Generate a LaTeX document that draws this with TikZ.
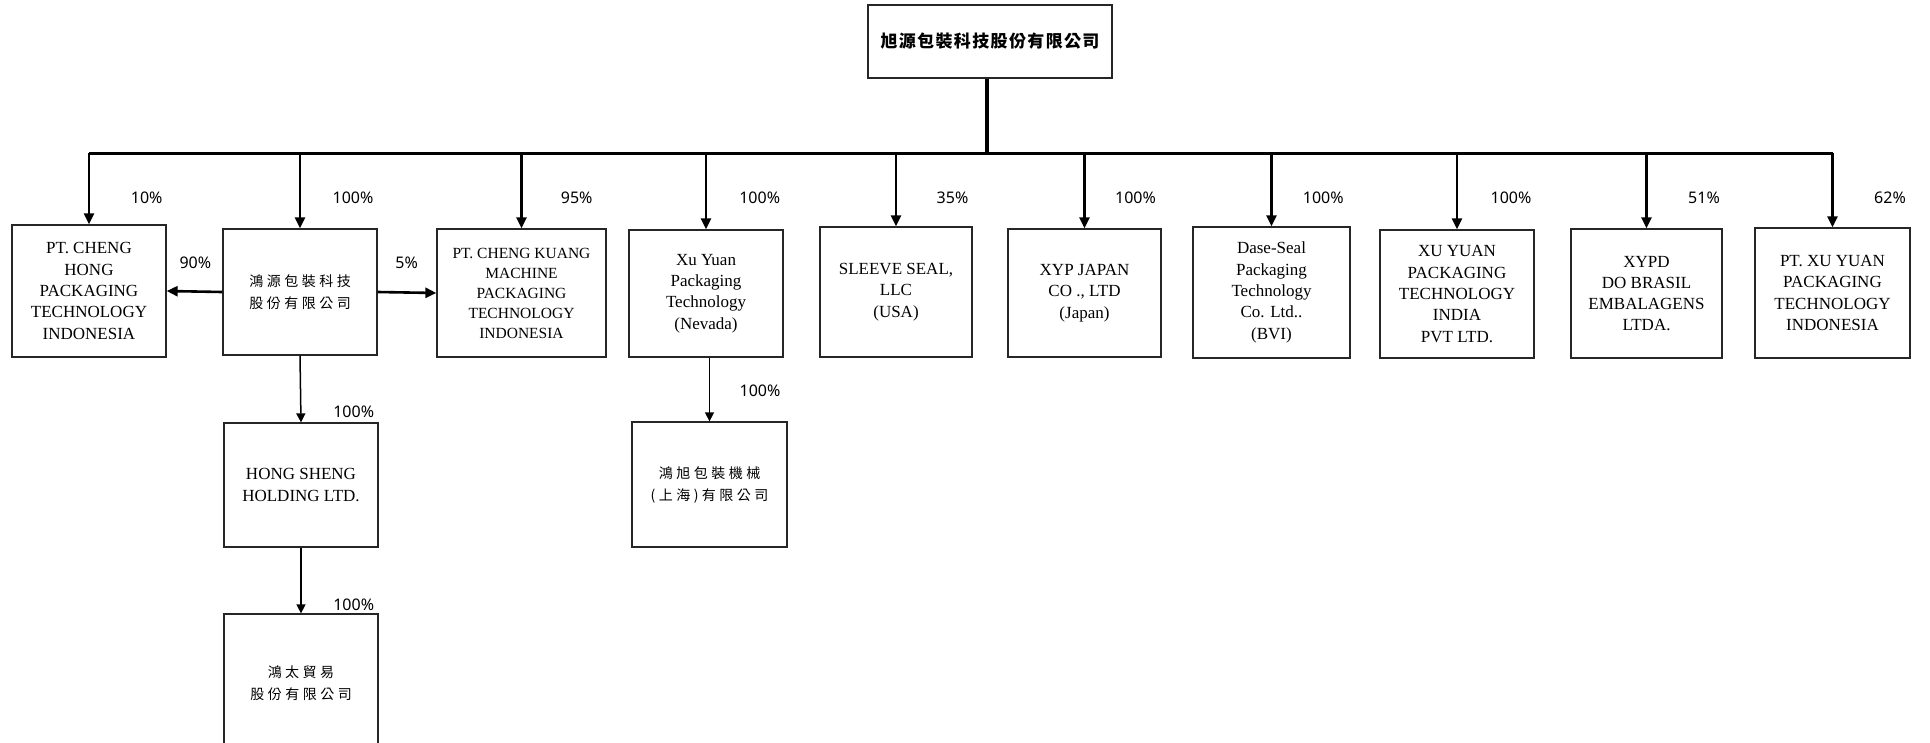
\documentclass[tikz,border=0pt]{standalone}
\usepackage{fontspec}
\setmainfont{Liberation Serif}
\usetikzlibrary{arrows.meta}
\newfontfamily\cjkf[LetterSpace=25]{Noto Sans CJK TC}
\newfontfamily\cjkt[LetterSpace=8]{Noto Sans CJK TC}
\newfontfamily\labf{Noto Sans}
\tikzset{
  box/.style={draw=black!85, line width=1.3pt, align=center, inner sep=0pt,
    font=\fontsize{17}{21.3}\selectfont},
  cjkbox/.style={box, font=\cjkf\fontsize{14}{22}\selectfont},
  pct/.style={font=\labf\fontsize{16}{18}\selectfont, inner sep=0pt},
  bigarr/.style={line width=2.6pt, -{Triangle[length=11pt,width=10pt]}},
  smallarr/.style={line width=1.5pt, -{Triangle[length=9pt,width=9pt]}},
}
\begin{document}
\begin{tikzpicture}[x=1pt,y=-1pt]
\useasboundingbox (0,0) rectangle (1930,742);
\clip (0,0) rectangle (1930,742);
% top
\node[box, minimum width=244pt, minimum height=73pt, font=\cjkt\bfseries\fontsize{17}{20}\selectfont] (top) at (990,41.5) {旭源包裝科技股份有限公司};
% row of subsidiaries
\node[box, minimum width=154pt, minimum height=132pt] (pch) at (89,291) {PT. CHENG\\HONG\\PACKAGING\\TECHNOLOGY\\INDONESIA};
\node[cjkbox, minimum width=154pt, minimum height=126pt] (hy) at (300,292) {鴻源包裝科技\\股份有限公司};
\node[box, minimum width=169pt, minimum height=128pt, font=\fontsize{15.5}{20}\selectfont] (ck) at (521.5,293) {PT. CHENG KUANG\\MACHINE\\PACKAGING\\TECHNOLOGY\\INDONESIA};
\node[box, minimum width=154pt, minimum height=127pt] (nev) at (706,293.5) {Xu Yuan\\Packaging\\Technology\\(Nevada)};
\node[box, minimum width=152pt, minimum height=130pt] (ss) at (896,292) {SLEEVE SEAL,\\LLC\\(USA)};
\node[box, minimum width=153pt, minimum height=128pt] (jp) at (1084.5,293) {XYP JAPAN\\CO ., LTD\\(Japan)};
\node[box, minimum width=157pt, minimum height=131pt] (ds) at (1271.5,292.5) {Dase-Seal\\Packaging\\Technology\\Co. Ltd..\\(BVI)};
\node[box, minimum width=154pt, minimum height=128pt] (ind) at (1457,294) {XU YUAN\\PACKAGING\\TECHNOLOGY\\INDIA\\PVT LTD.};
\node[box, minimum width=151pt, minimum height=129pt] (xypd) at (1646.5,293.5) {XYPD\\DO BRASIL\\EMBALAGENS\\LTDA.};
\node[box, minimum width=155pt, minimum height=130pt] (ptxu) at (1832.5,293) {PT. XU YUAN\\PACKAGING\\TECHNOLOGY\\INDONESIA};
% lower
\node[box, minimum width=154pt, minimum height=124pt] (hs) at (301,485) {HONG SHENG\\HOLDING LTD.};
\node[cjkbox, minimum width=154pt, minimum height=138pt] (ht) at (301,683) {鴻太貿易\\股份有限公司};
\node[cjkbox, minimum width=155pt, minimum height=125pt] (hx) at (709.5,484.5) {鴻旭包裝機械\\(上海)有限公司};
% bus
\coordinate (busl) at (88,153);
\coordinate (busc) at (987,153);
\draw[line width=4pt] (busc |- top.south) -- (busc);
\draw[line width=3pt] (pch.north |- busl) -- (ptxu.north |- busl);
\foreach \n in {pch,hy,ck,nev,ss,jp,ds,ind,xypd,ptxu}
  \draw[bigarr] (\n.north |- busl) -- (\n.north);
\draw[bigarr] (hy.west) -- (pch.east);
\draw[bigarr] (hy.east) -- (ck.west);
\draw[smallarr] (hy.south) -- (hs.north);
\draw[smallarr] (hs.south) -- (ht.north);
\draw[smallarr] (hx.north |- nev.south) -- (hx.north);
% percentages
\node[pct] (p1) at (146.7,198) {10\%};
\node[pct] (p2) at (353,198) {100\%};
\node[pct] (p3) at (576.7,198) {95\%};
\node[pct] (p4) at (759.7,198) {100\%};
\node[pct] (p5) at (952.5,198) {35\%};
\node[pct] (p6) at (1135.5,198) {100\%};
\node[pct] (p7) at (1323.3,198) {100\%};
\node[pct] (p8) at (1511,198) {100\%};
\node[pct] (p9) at (1704,198) {51\%};
\node[pct] (p10) at (1890,198) {62\%};
\node[pct] (p11) at (195.3,262.7) {90\%};
\node[pct] (p12) at (406.7,263) {5\%};
\node[pct] (p13) at (353.7,411.7) {100\%};
\node[pct] (p14) at (353.7,605) {100\%};
\node[pct] (p15) at (760,390.7) {100\%};
\end{tikzpicture}
\end{document}
